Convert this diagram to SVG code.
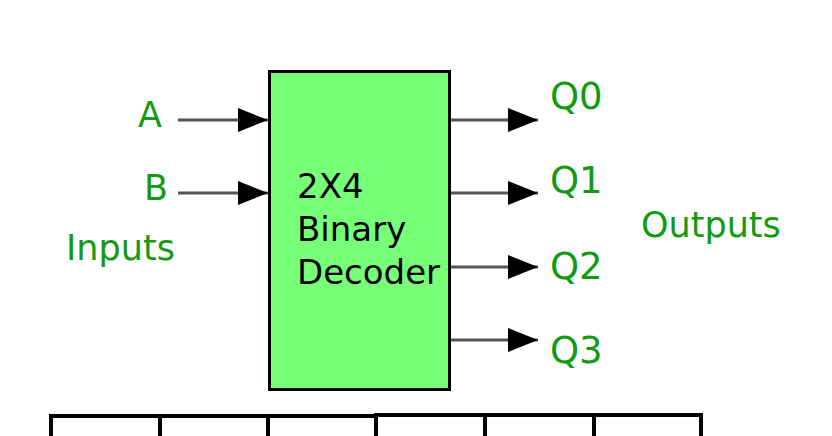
<svg xmlns="http://www.w3.org/2000/svg" width="832" height="436" viewBox="0 0 832 436">
<style>
.lbl{font-family:"DejaVu Sans",sans-serif;font-size:35px;fill:#139a13}
.q{font-size:37px}
.blk{font-family:"DejaVu Sans",sans-serif;font-size:34px;fill:#000}
.wire{stroke:#555;stroke-width:3;fill:none;marker-end:url(#ah)}
.tbl{stroke:#000;stroke-width:4;fill:none}
</style>
<defs>
<marker id="ah" markerUnits="userSpaceOnUse" markerWidth="30" markerHeight="24" refX="30" refY="12" orient="auto">
<path d="M0,0 L30,12 L0,24 z" fill="#000"/>
</marker>
</defs>
<rect width="832" height="436" fill="#fff"/>
<g id="connectors">
<line class="wire" x1="178" y1="120" x2="268" y2="120"/>
<line class="wire" x1="178" y1="193" x2="268" y2="193"/>
<line class="wire" x1="450" y1="120" x2="538" y2="120"/>
<line class="wire" x1="450" y1="193" x2="538" y2="193"/>
<line class="wire" x1="450" y1="267" x2="538" y2="267"/>
<line class="wire" x1="450" y1="340" x2="538" y2="340"/>
</g>
<g id="decoder">
<rect x="269.5" y="71.5" width="180" height="318" fill="#77ff77" stroke="#000" stroke-width="3"/>
<text class="blk" x="297" y="198">2X4</text>
<text class="blk" x="297" y="241">Binary</text>
<text class="blk" x="297" y="284">Decoder</text>
</g>
<g id="inputs">
<text class="lbl" x="162" y="127" text-anchor="end">A</text>
<text class="lbl" x="168" y="200" text-anchor="end">B</text>
<text class="lbl" x="66" y="260" font-size="33">Inputs</text>
</g>
<g id="outputs">
<text class="lbl q" x="550" y="109">Q0</text>
<text class="lbl q" x="550" y="193">Q1</text>
<text class="lbl q" x="550" y="279">Q2</text>
<text class="lbl q" x="550" y="363">Q3</text>
<text class="lbl" x="641" y="237" font-size="34.5">Outputs</text>
</g>
<g id="table">
<path class="tbl" d="M51,436 V416 H376 M376,436 V415 H701 V436 M160,416 V436 M268,416 V436 M485,415 V436 M594,415 V436"/>
</g>
</svg>
